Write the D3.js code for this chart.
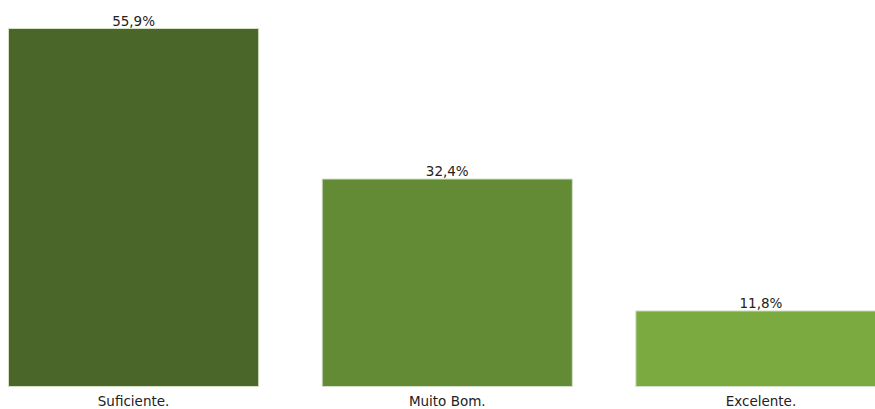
<!DOCTYPE html>
<html><head><meta charset="utf-8">
<script src="https://cdn.jsdelivr.net/npm/d3@7"></script>
<style>body{margin:0;background:#fff}svg{display:block}</style>
</head><body>
<svg id="c" width="875" height="409"></svg>
<script>
const categories = ["Suficiente.", "Muito Bom.", "Excelente."];
const values = [55.9, 32.4, 11.8];
const valueLabels = ["55,9%", "32,4%", "11,8%"];
const colors = ["#4a6629", "#638a35", "#7aaa40"];

const svg = d3.select("#c");
const x = d3.scaleBand().domain(categories).range([8.5, 886]).paddingInner(0.2025).paddingOuter(0);
const y = d3.scaleLinear().domain([0, 55.9]).range([386.5, 28.5]);

svg.selectAll("rect.bar").data(categories).enter().append("rect")
  .attr("class", "bar")
  .attr("x", d => x(d))
  .attr("y", (d, i) => y(values[i]))
  .attr("width", x.bandwidth())
  .attr("height", (d, i) => y(0) - y(values[i]))
  .attr("fill", (d, i) => colors[i])
  .attr("stroke", "#d5e0c8")
  .attr("stroke-width", 1);

svg.selectAll("text.val").data(categories).enter().append("text")
  .attr("class", "val")
  .attr("x", d => x(d) + x.bandwidth() / 2)
  .attr("y", (d, i) => y(values[i]) - 3)
  .attr("text-anchor", "middle")
  .attr("font-family", "DejaVu Sans")
  .attr("font-size", 13.5)
  .attr("fill", "#222")
  .text((d, i) => valueLabels[i]);

const axis = d3.axisBottom(x).tickSize(0).tickPadding(9.5);
const g = svg.append("g").attr("transform", `translate(0,${y(0)})`).call(axis);
g.select(".domain").remove();
g.selectAll("text").attr("font-family", "DejaVu Sans").attr("font-size", 13.5).attr("fill", "#222");
</script>
</body></html>
